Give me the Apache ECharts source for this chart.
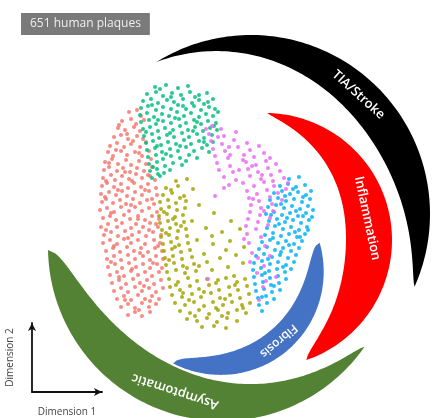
<!DOCTYPE html>
<html><head><meta charset="utf-8">
<script src="https://cdn.jsdelivr.net/npm/echarts@6/dist/echarts.min.js"></script>
<style>html,body{margin:0;padding:0;background:#fff}#c{width:433px;height:418px}</style>
</head><body><div id="c"></div>
<script>
// ---- data (plot units = Dimension 1 / Dimension 2) ----
const titleText = '651 human plaques';
const dim1Name = 'Dimension 1';
const dim2Name = 'Dimension 2';
const clusterNames = ['Cluster 1', 'Cluster 2', 'Cluster 3', 'Cluster 4', 'Cluster 5'];
const arcOrder = ['TIA/Stroke', 'Inflammation', 'Fibrosis', 'Asymptomatic'];

const cluster1 = [ // salmon
[129,112],[137,110],[141,116],[122,121],[131,119],[136,124],[144,120],
[118,128],[125,130],[134,127],[140,131],[114,137],[121,135],[128,139],[137,136],[143,139],
[110,146],[117,143],[124,147],[131,144],[140,147],[146,142],
[108,152],[113,156],[121,151],[127,155],[135,152],[142,156],[149,151],
[105,162],[112,159],[118,164],[126,160],[131,165],[139,161],[146,164],[151,159],
[104,170],[109,167],[117,171],[123,168],[130,172],[137,168],[144,171],[152,167],
[103,178],[111,175],[115,180],[122,176],[129,179],[136,174],[142,178],[150,176],[155,180],
[102,186],[107,183],[114,187],[121,184],[128,188],[134,183],[141,187],[148,184],[156,188],
[101,194],[109,192],[116,195],[122,191],[127,196],[135,192],[142,195],[149,191],[157,195],
[102,202],[106,199],[113,203],[120,200],[126,204],[133,199],[140,203],[147,200],[154,204],
[100,210],[107,208],[114,212],[121,207],[129,211],[135,207],[142,211],[149,208],[157,212],
[103,218],[110,216],[116,220],[124,215],[130,219],[138,216],[145,220],[152,216],[159,219],
[101,227],[108,224],[117,227],[122,223],[131,228],[136,224],[143,227],[150,223],[158,227],
[104,235],[111,232],[118,236],[125,231],[132,235],[139,232],[146,236],[153,232],[161,235],
[103,243],[110,240],[117,244],[124,239],[131,243],[138,240],[145,244],[154,240],[160,243],
[106,251],[113,248],[120,252],[127,247],[134,251],[141,248],[148,252],[155,248],[162,251],
[107,259],[114,256],[121,260],[128,255],[135,259],[143,256],[150,260],[156,256],[163,259],
[108,267],[115,264],[122,268],[129,263],[136,267],[143,264],[150,268],[157,264],[162,268],
[110,275],[117,272],[124,276],[131,271],[138,275],[145,272],[152,276],[159,272],
[112,283],[119,280],[126,284],[133,279],[140,283],[147,280],[154,284],[161,280],
[114,291],[121,288],[128,292],[135,287],[142,291],[149,288],[156,292],[163,288],
[117,299],[124,296],[131,300],[138,295],[145,299],[152,296],[159,299],
[121,307],[128,304],[135,308],[142,303],[149,307],[156,304],
[128,315],[135,312],[142,316],[150,312],
[119,125],[127,134],[133,141],[116,150],[139,153],[109,163],[125,172],[148,175],[106,181],[132,181],
[118,190],[145,190],[105,197],[131,205],[152,199],[111,213],[138,219],[156,224],[106,230],[128,238],
[149,230],[114,246],[140,253],[158,246],[111,262],[132,269],[153,263],[119,277],[144,286],[125,300],
[150,301],[139,310]
];
const cluster2 = [ // olive
[176,181],[187,179],[166,188],[178,186],[193,189],[163,195],[172,193],[184,196],
[160,202],[168,200],[176,203],[186,201],[161,209],[169,207],[177,210],[185,208],
[159,216],[167,214],[175,217],[183,215],[160,223],[168,221],[176,224],[184,222],
[162,230],[170,228],[178,231],[186,229],[161,237],[169,235],[177,238],[187,236],
[163,244],[171,242],[179,245],[188,243],[164,251],[172,249],[181,252],[190,250],
[165,258],[173,256],[182,259],[192,257],[166,265],[174,263],[183,266],[194,264],
[167,272],[176,270],[185,273],[196,271],
[199,205],[214,213],[231,221],[206,228],[222,232],[240,229],[197,240],[213,244],[230,241],[244,247],
[204,254],[220,258],[236,255],[199,266],[212,270],[228,267],[243,263],[234,276],[218,280],[192,221],
[169,279],[178,282],[188,278],[197,281],[207,279],[216,283],[226,278],[237,282],[245,279],
[170,287],[180,290],[190,286],[199,289],[209,285],[219,290],[229,287],[238,290],[247,286],
[172,295],[182,297],[192,294],[201,297],[211,293],[220,298],[230,295],[240,298],[249,294],
[175,303],[185,305],[194,302],[204,306],[213,302],[223,305],[232,302],[242,305],[250,303],
[180,311],[190,313],[199,310],[209,314],[218,310],[228,313],[237,310],[246,313],
[187,319],[197,321],[207,318],[217,322],[227,318],[237,321],[202,327],[214,326],[226,328],
[171,190],[180,198],[164,212],[173,219],[181,226],[166,233],[175,247],[169,260],[187,268],[176,285],
[204,292],[225,299],[189,300],[216,308],[243,308],[195,316],[222,316],[183,293],[235,285],[212,236],
[226,250],[207,262]
];
const cluster3 = [ // green
[155,87],[166,85],[178,88],[188,86],
[147,94],[156,92],[163,96],[172,93],[181,95],[190,92],[199,95],[207,93],
[143,101],[151,99],[158,103],[167,100],[174,102],[183,99],[192,103],[199,100],[208,102],[213,99],
[141,108],[148,106],[156,110],[163,107],[171,109],[178,105],[186,109],[194,106],[201,110],[209,107],[215,109],
[140,115],[147,113],[154,117],[162,114],[169,116],[177,112],[184,116],[191,113],[199,117],[206,114],[213,116],[218,112],
[141,122],[149,120],[156,124],[163,121],[171,123],[179,119],[186,123],[194,120],[201,124],[208,121],[216,123],
[143,129],[150,127],[158,131],[165,128],[173,130],[180,126],[188,130],[195,127],[203,131],[210,128],[217,130],
[144,136],[152,134],[159,138],[167,135],[174,137],[182,133],[189,137],[197,134],[204,138],[212,135],
[146,143],[153,141],[161,145],[168,142],[176,144],[184,140],[191,144],[199,141],[207,145],[213,142],
[147,150],[155,148],[162,152],[170,149],[178,151],[186,147],[194,151],[202,148],[209,152],
[148,157],[156,155],[163,159],[171,156],[180,158],[189,155],[197,158],
[149,164],[157,162],[165,166],[173,163],[182,165],
[150,171],[157,169],[164,173],[170,170],[152,178],[160,176],
[160,89],[171,97],[195,97],[152,105],[183,106],[204,104],[158,120],[175,118],[197,122],[146,132],
[170,133],[193,131],[214,126],[157,146],[180,146],[204,142],[166,154],[186,161],[153,167],[158,174]
];
const cluster4 = [ // cyan
[289,179],[299,177],[280,186],[288,184],[296,187],[305,185],
[274,193],[282,191],[290,194],[298,192],[306,195],[311,191],
[270,200],[278,198],[286,201],[294,199],[302,202],[310,199],
[268,207],[276,205],[284,208],[292,206],[300,209],[308,206],[313,210],
[266,214],[274,212],[282,215],[290,213],[298,216],[306,213],[312,217],
[269,221],[277,219],[285,222],[293,220],[301,223],[309,220],
[267,228],[275,226],[283,229],[291,227],[299,230],[307,227],
[265,235],[273,233],[281,236],[289,234],[297,237],[305,234],
[262,242],[270,240],[278,243],[286,241],[294,244],[302,241],
[259,249],[267,247],[275,250],[283,248],[291,251],[299,248],
[256,256],[264,254],[272,257],[280,255],[288,258],[296,255],
[254,263],[262,261],[270,264],[278,262],[286,265],[294,262],
[253,270],[261,268],[269,271],[277,269],[285,272],[291,269],
[254,277],[262,275],[270,278],[278,276],[286,279],
[255,284],[263,282],[271,285],[279,283],
[256,291],[264,289],[272,292],[280,290],
[258,298],[266,296],[274,299],[259,305],[267,303],[262,311],
[293,189],[303,197],[281,204],[296,211],[287,218],[303,216],[279,224],[295,232],[273,238],[289,245],
[281,252],[268,259],[283,267],[265,273],[274,286],[262,297],[308,230],[300,237],[271,215],[285,196]
];
const cluster5 = [ // magenta
[212,126],[221,129],[209,134],[224,136],[236,132],
[211,141],[222,144],[234,140],[247,143],
[213,149],[225,151],[238,147],[250,150],[259,146],
[215,156],[228,158],[244,155],[254,157],[264,153],[270,158],
[217,163],[230,166],[246,162],[256,165],[266,161],[276,164],
[219,170],[233,172],[248,169],[258,172],[268,168],[280,171],
[224,177],[236,180],[250,176],[261,179],[271,175],[284,178],
[229,185],[243,183],[254,186],[264,182],[274,186],[288,183],
[247,191],[257,194],[267,190],[278,193],
[249,198],[259,201],[270,197],[282,200],
[251,205],[261,208],[272,204],
[250,212],[260,215],[273,211],
[248,219],[258,222],[270,218],
[246,226],[256,229],[268,225],
[247,234],[261,237],[249,243],[265,246],[252,253],[270,256],
[250,262],[264,266],[257,273],[276,277],
[263,287],[259,300],[208,279],[224,188],[215,196],
[218,137],[229,147],[243,160],[252,166],[262,175],[273,181],[239,170],[286,189],[253,199],[264,211],
[244,239],[258,258],[266,281],[230,155],[206,129]
];

// ---- styling / layout ----
const clusterColors = ['#F8766D', '#A3A500', '#00BF7D', '#00B0F6', '#E76BF3'];
const clusters = [cluster1, cluster2, cluster3, cluster4, cluster5];
const arcColors = {'TIA/Stroke':'#000000', 'Inflammation':'#FF0000', 'Fibrosis':'#4472C4', 'Asymptomatic':'#548235'};
// crescent geometry in plot units: centre, outer radius, start/end angle, max thickness, label angle
const arcGeom = {
  'TIA/Stroke':   {cx:251, cy:214, r:179, a0:-122, a1:24,  w:38, peak:0.58, p:0.8, tipIn:0, lab:-48, fs:13},
  'Inflammation': {cx:265, cy:240, r:127, a0:-89,  a1:71,  w:46, peak:0.56, p:0.7, tipIn:0, lab:-12, fs:13},
  'Fibrosis':     {cx:215, cy:265, r:112, a0:-12,  a1:113, w:26, peak:0.5,  p:0.5, tipIn:5, lab:50,  fs:12},
  'Asymptomatic': {cx:222, cy:247, r:174, a0:35,   a1:179, w:46, peak:0.6,  p:0.55, tipIn:0, lab:108, fs:13}
};

function bandAt(g, t) {
  const k = Math.log(0.5) / Math.log(g.peak);
  const s = Math.sin(Math.PI * t);
  const ro = g.r - g.tipIn * (1 - s);
  const th = g.w * Math.pow(Math.max(0, Math.sin(Math.PI * Math.pow(t, k))), g.p);
  return [ro, th];
}

function renderCrescent(params, api) {
  const name = arcOrder[params.dataIndex];
  const g = arcGeom[name];
  const N = 120, outer = [], inner = [];
  for (let i = 0; i <= N; i++) {
    const t = i / N;
    const a = (g.a0 + t * (g.a1 - g.a0)) * Math.PI / 180;
    const [ro, th] = bandAt(g, t);
    outer.push(api.coord([g.cx + ro * Math.cos(a), g.cy + ro * Math.sin(a)]));
    inner.push(api.coord([g.cx + (ro - th) * Math.cos(a), g.cy + (ro - th) * Math.sin(a)]));
  }
  const pts = outer.concat(inner.reverse());
  const tl = (g.lab - g.a0) / (g.a1 - g.a0);
  const [rl, thl] = bandAt(g, tl);
  const al = g.lab * Math.PI / 180;
  const pos = api.coord([g.cx + (rl - thl / 2) * Math.cos(al), g.cy + (rl - thl / 2) * Math.sin(al)]);
  return {
    type: 'group',
    children: [
      {type: 'polygon', shape: {points: pts}, style: {fill: arcColors[name]}},
      {type: 'text', x: pos[0], y: pos[1], rotation: -(g.lab + 90) * Math.PI / 180,
       style: {text: name, fill: '#ffffff', fontSize: g.fs, fontFamily: '"Open Sans", sans-serif', fontWeight: 600,
               align: 'center', verticalAlign: 'middle', textAlign: 'center', textVerticalAlign: 'middle'}}
    ]
  };
}

const chart = echarts.init(document.getElementById('c'), null, {renderer: 'canvas'});
const series = [{
  type: 'custom', xAxisIndex: 0, yAxisIndex: 0, silent: true, z: 1,
  data: arcOrder.map((n, i) => [i, 0]),
  renderItem: renderCrescent
}];
clusters.forEach((pts, i) => {
  series.push({
    type: 'scatter', name: clusterNames[i], xAxisIndex: 0, yAxisIndex: 0, z: 3,
    data: pts, symbolSize: 4, silent: true,
    itemStyle: {color: clusterColors[i], opacity: 0.85}
  });
});

chart.setOption({
  animation: false,
  backgroundColor: '#ffffff',
  title: {
    text: titleText, left: 21, top: 13, padding: [5, 9],
    backgroundColor: '#7a7a7a',
    textStyle: {color: '#eeeeee', fontSize: 12, fontWeight: 'normal', fontFamily: '"Open Sans", sans-serif'}
  },
  grid: [
    {left: 0, top: 0, right: 0, bottom: 0},
    {left: 32, top: 323, width: 70, height: 74}
  ],
  xAxis: [
    {gridIndex: 0, type: 'value', min: 0, max: 433, show: false},
    {gridIndex: 1, type: 'value', min: 0, max: 1,
     axisLine: {show: true, onZero: false, symbol: ['none', 'arrow'], symbolSize: [6, 8], lineStyle: {color: '#111', width: 1.8}},
     axisTick: {show: false}, axisLabel: {show: false}, splitLine: {show: false},
     name: dim1Name, nameLocation: 'middle', nameGap: 15,
     nameTextStyle: {fontSize: 10, color: '#444', fontFamily: '"Open Sans", sans-serif'}}
  ],
  yAxis: [
    {gridIndex: 0, type: 'value', min: 0, max: 418, inverse: true, show: false},
    {gridIndex: 1, type: 'value', min: 0, max: 1,
     axisLine: {show: true, onZero: false, symbol: ['none', 'arrow'], symbolSize: [6, 8], lineStyle: {color: '#111', width: 1.8}},
     axisTick: {show: false}, axisLabel: {show: false}, splitLine: {show: false},
     name: dim2Name, nameLocation: 'middle', nameGap: 17,
     nameTextStyle: {fontSize: 10, color: '#444', fontFamily: '"Open Sans", sans-serif'}}
  ],
  series: series
});
</script></body></html>
